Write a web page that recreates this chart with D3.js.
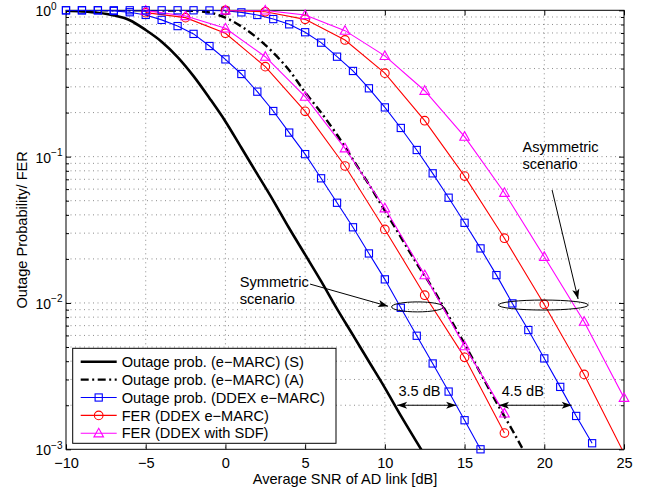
<!DOCTYPE html>
<html lang="en">
<head>
<meta charset="UTF-8">
<title>Outage probability / FER vs SNR</title>
<script src="https://d3js.org/d3.v7.min.js"></script>
<style>
  body { margin: 0; background: #fff; }
  svg { display: block; font-family: "Liberation Sans", Arial, Helvetica, sans-serif; }
  .grid line { stroke: #6f6f6f; stroke-width: 0.8; stroke-dasharray: 1,3.5; }
  .ax line { stroke: #000; stroke-width: 1; }
  .ax .domain { display: none; }
</style>
</head>
<body>
<svg width="654" height="490"></svg>
<script>
// ---- data ----
// outage prob. e-MARC, symmetric (solid black)
const snrOutS = [-10,-9,-8,-7,-6,-5,-4,-3,-2,-1,0,1,2,3,4,5,6,7,8,9,10,11,12,13];
const outS = [0.993,0.982,0.962,0.923,0.855,0.733,0.610,0.479,0.355,0.251,0.174,0.115,0.0759,0.0501,0.0324,0.0214,0.0141,0.00912,0.00603,0.00398,0.00263,0.00170,0.00112,0.00074];

// outage prob. e-MARC, asymmetric (dash-dot black)
const snrOutA = [-10,-9,-8,-7,-6,-5,-4,-3,-2,-1,0,1,2,3,4,5,6,7,8,9,10,11,12,13,14,15,16,17,18,19];
const outA = [1,1,1,1,1,0.999,0.998,0.996,0.99,0.966,0.89,0.776,0.646,0.513,0.389,0.275,0.20,0.141,0.0955,0.0646,0.0427,0.0282,0.0186,0.0126,0.00813,0.00525,0.00331,0.00209,0.00135,0.000851];

// outage prob. DDEX e-MARC (blue squares)
const snrDdexSym = [-10,-9,-8,-7,-6,-5,-4,-3,-2,-1,0,1,2,3,4,5,6,7,8,9,10,11,12,13,14,15,16];
const ddexSym = [1,1,1,0.99,0.97,0.93,0.86,0.78,0.69,0.57,0.462,0.367,0.278,0.205,0.146,0.104,0.0711,0.0484,0.0329,0.0218,0.0145,0.00927,0.00597,0.00386,0.00248,0.00158,0.001];
const snrDdexAsym = [-10,-9,-8,-7,-6,-5,-4,-3,-2,-1,0,1,2,3,4,5,6,7,8,9,10,11,12,13,14,15,16,17,18,19,20,21,22,23];
const ddexAsym = [1,1,1,1,1,1,1,1,1,0.998,0.993,0.968,0.929,0.871,0.802,0.708,0.601,0.482,0.385,0.293,0.217,0.157,0.111,0.0769,0.0524,0.0353,0.0236,0.0155,0.00993,0.00653,0.00418,0.00267,0.00169,0.0011];

// FER DDEX e-MARC (red circles)
const snrFerSym = [-5,-2.5,0,2.5,5,7.5,10,12.5,15,17.5];
const ferESym = [0.964,0.891,0.697,0.412,0.204,0.0863,0.0318,0.0113,0.00425,0.00129];
const snrFerAsym = [0,2.5,5,7.5,10,12.5,15,17.5,20,22.5,25];
const ferEAsym = [0.998,0.977,0.867,0.627,0.372,0.176,0.0736,0.0277,0.00977,0.00325,0.00094];

// FER DDEX with SDF (magenta triangles)
const ferSdfSym = [0.995,0.914,0.753,0.482,0.257,0.114,0.0444,0.0155,0.00507,0.00176];
const ferSdfAsym = [1,0.998,0.929,0.726,0.488,0.282,0.137,0.0566,0.0207,0.00745,0.00225];

const xTicks = [-10,-5,0,5,10,15,20,25];
const yTicks = [1e-3,1e-2,1e-1,1];
const yExp = ["\u22123","\u22122","\u22121","0"];

const legendLabels = [
  "Outage prob. (e\u2212MARC) (S)",
  "Outage prob. (e\u2212MARC) (A)",
  "Outage prob. (DDEX e\u2212MARC)",
  "FER (DDEX e\u2212MARC)",
  "FER (DDEX with SDF)"
];

// ---- layout ----
const margin = { top: 10.3, right: 30, bottom: 40.7, left: 66 },
    width = 654 - margin.left - margin.right,
    height = 490 - margin.top - margin.bottom;

const styles = {
  outS:  { color: "#000", width: 2.6, dash: null, marker: null },
  outA:  { color: "#000", width: 2.4, dash: "8,3.5,2,3.5", marker: null },
  ddex:  { color: "#0000ff", width: 1.1, dash: null, marker: "square" },
  ferE:  { color: "#ff0000", width: 1.1, dash: null, marker: "circle" },
  ferS:  { color: "#ff00ff", width: 1.1, dash: null, marker: "triangle" }
};
const legendKeys = ["outS", "outA", "ddex", "ferE", "ferS"];

const series = [
  { key: "outS", x: snrOutS, y: outS, smooth: true },
  { key: "outA", x: snrOutA, y: outA, smooth: true },
  { key: "ddex", x: snrDdexSym, y: ddexSym },
  { key: "ferE", x: snrFerSym, y: ferESym },
  { key: "ferS", x: snrFerSym, y: ferSdfSym },
  { key: "ddex", x: snrDdexAsym, y: ddexAsym },
  { key: "ferE", x: snrFerAsym, y: ferEAsym },
  { key: "ferS", x: snrFerAsym, y: ferSdfAsym }
];

const svg = d3.select("svg");
const g = svg.append("g").attr("transform", `translate(${margin.left},${margin.top})`);

const x = d3.scaleLinear().domain([-10, 25]).range([0, width]);
const y = d3.scaleLog().domain([1e-3, 1]).range([height, 0]);

// minor decade values 2..9
const minors = [];
[1e-3, 1e-2, 1e-1].forEach(d => { for (let k = 2; k <= 9; k++) minors.push(d * k); });

// grid
const grid = g.append("g").attr("class", "grid");
grid.selectAll(".gx").data(xTicks.slice(1, -1)).enter().append("line")
  .attr("x1", d => x(d)).attr("x2", d => x(d)).attr("y1", 0).attr("y2", height);
grid.selectAll(".gy").data(minors.concat([1e-2, 1e-1])).enter().append("line")
  .attr("x1", 0).attr("x2", width).attr("y1", d => y(d)).attr("y2", d => y(d));

// axes (inward ticks on all four sides)
g.append("g").attr("class", "ax").attr("transform", `translate(0,${height})`)
  .call(d3.axisBottom(x).tickValues(xTicks).tickSizeInner(-5).tickSizeOuter(0).tickPadding(8.5))
  .call(a => a.selectAll("text").attr("font-size", 14.6).attr("fill", "#000"));
g.append("g").attr("class", "ax")
  .call(d3.axisTop(x).tickValues(xTicks).tickSizeInner(-5).tickSizeOuter(0).tickFormat(""));
g.append("g").attr("class", "ax")
  .call(d3.axisLeft(y).tickValues(yTicks).tickSizeInner(-5).tickSizeOuter(0).tickFormat(""));
g.append("g").attr("class", "ax")
  .call(d3.axisLeft(y).tickValues(minors).tickSizeInner(-3).tickSizeOuter(0).tickFormat(""));
g.append("g").attr("class", "ax").attr("transform", `translate(${width},0)`)
  .call(d3.axisRight(y).tickValues(yTicks).tickSizeInner(-5).tickSizeOuter(0).tickFormat(""));
g.append("g").attr("class", "ax").attr("transform", `translate(${width},0)`)
  .call(d3.axisRight(y).tickValues(minors).tickSizeInner(-3).tickSizeOuter(0).tickFormat(""));

// y tick labels as 10^n
yTicks.forEach((v, i) => {
  const t = svg.append("text")
    .attr("x", 35.5).attr("y", margin.top + y(v) + 6)
    .attr("font-size", 14).attr("fill", "#000");
  t.append("tspan").text("10");
  t.append("tspan").attr("font-size", 10).attr("dy", -6.5).text(yExp[i]);
});

// axis box
g.append("rect").attr("width", width).attr("height", height)
  .attr("fill", "none").attr("stroke", "#000").attr("stroke-width", 1);

// axis titles
svg.append("text")
  .attr("x", margin.left + width / 2).attr("y", 484)
  .attr("text-anchor", "middle").attr("font-size", 14.6)
  .text("Average SNR of AD link [dB]");
svg.append("text")
  .attr("transform", `translate(26.5,${margin.top + height / 2}) rotate(-90)`)
  .attr("text-anchor", "middle").attr("font-size", 14.6)
  .text("Outage Probability/ FER");

// clip for lines
svg.append("defs").append("clipPath").attr("id", "plotClip")
  .append("rect").attr("width", width).attr("height", height);

const defs = svg.select("defs");
defs.append("marker").attr("id", "arrowHead")
  .attr("viewBox", "-11 -5 12 10").attr("refX", 0).attr("refY", 0)
  .attr("markerUnits", "userSpaceOnUse").attr("markerWidth", 12).attr("markerHeight", 10)
  .attr("orient", "auto-start-reverse")
  .append("path").attr("d", "M0,0 L-10,-3.6 L-7.5,0 L-10,3.6 Z").attr("fill", "#000");

function drawMarker(sel, type, cx, cy, color) {
  if (type === "square") {
    sel.append("rect").attr("x", cx - 3.6).attr("y", cy - 3.6).attr("width", 7.2).attr("height", 7.2)
      .attr("fill", "none").attr("stroke", color).attr("stroke-width", 1.1);
  } else if (type === "circle") {
    sel.append("circle").attr("cx", cx).attr("cy", cy).attr("r", 4.3)
      .attr("fill", "none").attr("stroke", color).attr("stroke-width", 1.1);
  } else if (type === "triangle") {
    sel.append("path")
      .attr("d", `M${cx},${cy - 5} L${cx + 4.8},${cy + 3.6} L${cx - 4.8},${cy + 3.6} Z`)
      .attr("fill", "none").attr("stroke", color).attr("stroke-width", 1.1);
  }
}

const plot = g.append("g");
series.forEach(s => {
  const st = styles[s.key];
  const pts = s.x.map((v, i) => [v, s.y[i]]);
  const line = d3.line().x(d => x(d[0])).y(d => y(d[1]))
    .curve(s.smooth ? d3.curveMonotoneX : d3.curveLinear);
  plot.append("path").datum(pts)
    .attr("clip-path", "url(#plotClip)")
    .attr("d", line)
    .attr("fill", "none")
    .attr("stroke", st.color)
    .attr("stroke-width", st.width)
    .attr("stroke-dasharray", st.dash);
  if (st.marker) {
    const mg = plot.append("g");
    pts.filter(d => d[1] >= 1e-3 && d[1] <= 1).forEach(d => {
      drawMarker(mg, st.marker, x(d[0]), y(d[1]), st.color);
    });
  }
});

// ---- annotations (placed in data coordinates) ----
const ann = g.append("g").attr("font-size", 14.6).attr("fill", "#000");
function textBlock(lines, xv, yv) {
  lines.forEach((l, i) => {
    ann.append("text").attr("x", x(xv)).attr("y", y(yv) + i * 17).text(l);
  });
}
function arrow(x1, y1, x2, y2, both) {
  ann.append("line")
    .attr("x1", x(x1)).attr("y1", y(y1)).attr("x2", x(x2)).attr("y2", y(y2))
    .attr("stroke", "#000").attr("stroke-width", 1)
    .attr("marker-end", "url(#arrowHead)")
    .attr("marker-start", both ? "url(#arrowHead)" : null);
}
function ellipse(xc, yc, rxDb) {
  ann.append("ellipse")
    .attr("cx", x(xc)).attr("cy", y(yc))
    .attr("rx", x(xc + rxDb) - x(xc)).attr("ry", 5)
    .attr("fill", "none").attr("stroke", "#000").attr("stroke-width", 1);
}

textBlock(["Symmetric", "scenario"], 0.9, 0.0129);
arrow(5.31, 0.01346, 10.2, 0.0095, false);
ellipse(12.05, 0.0094, 1.63);

textBlock(["Asymmetric", "scenario"], 18.63, 0.108);
arrow(20.49, 0.0591, 22.12, 0.01064, false);
ellipse(19.94, 0.00968, 2.82);

arrow(10.77, 0.002, 14.47, 0.002, true);
ann.append("text").attr("x", x(10.85)).attr("y", y(0.00232)).text("3.5 dB");
arrow(17.16, 0.002, 21.72, 0.002, true);
ann.append("text").attr("x", x(17.33)).attr("y", y(0.00232)).text("4.5 dB");

// ---- legend ----
const lg = g.append("g").attr("transform", "translate(6.7,338)");
lg.append("rect").attr("width", 263.3).attr("height", 95)
  .attr("fill", "#fff").attr("stroke", "#000").attr("stroke-width", 1);
legendKeys.forEach((k, i) => {
  const st = styles[k];
  const yy = 13.4 + i * 17.9;
  lg.append("line").attr("x1", 8).attr("x2", 44).attr("y1", yy).attr("y2", yy)
    .attr("stroke", st.color).attr("stroke-width", st.width)
    .attr("stroke-dasharray", st.dash);
  if (st.marker) drawMarker(lg, st.marker, 26, yy, st.color);
  lg.append("text").attr("x", 49).attr("y", yy + 5.2)
    .attr("font-size", 14.6).text(legendLabels[i]);
});
</script>
</body>
</html>
